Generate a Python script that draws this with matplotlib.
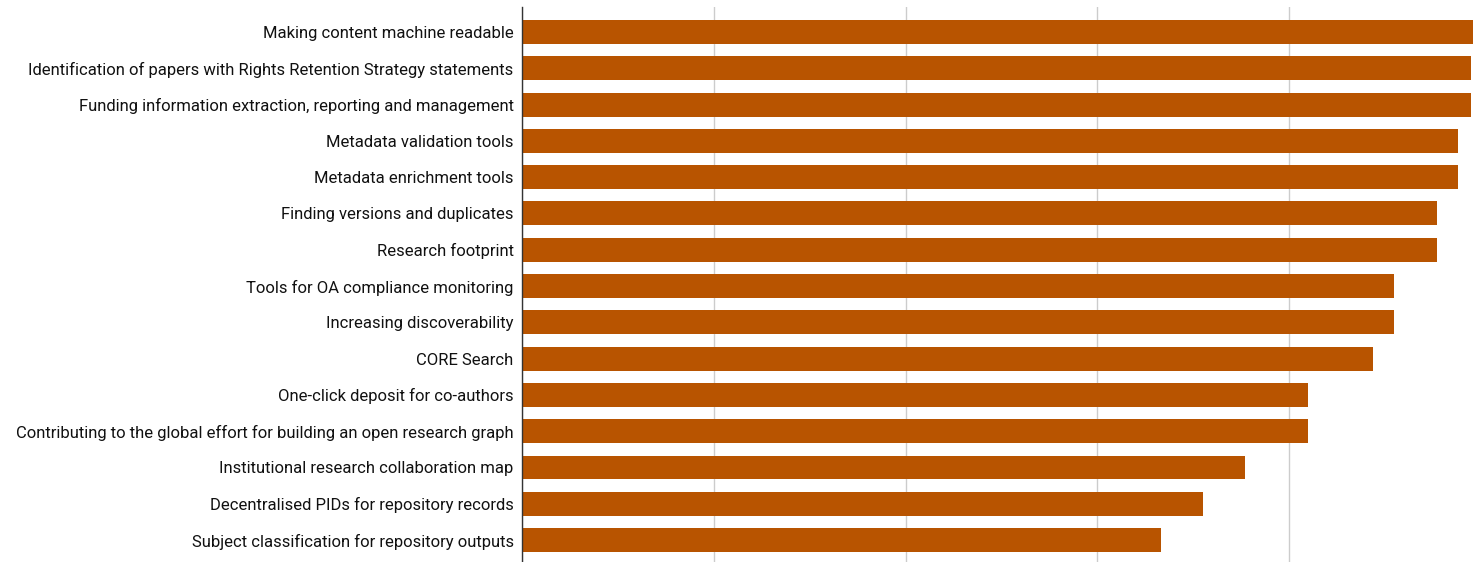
import matplotlib
matplotlib.use("Agg")
import matplotlib.pyplot as plt

# survey features, top to bottom
features = [
    "Making content machine readable",
    "Identification of papers with Rights Retention Strategy statements",
    "Funding information extraction, reporting and management",
    "Metadata validation tools",
    "Metadata enrichment tools",
    "Finding versions and duplicates",
    "Research footprint",
    "Tools for OA compliance monitoring",
    "Increasing discoverability",
    "CORE Search",
    "One-click deposit for co-authors",
    "Contributing to the global effort for building an open research graph",
    "Institutional research collaboration map",
    "Decentralised PIDs for repository records",
    "Subject classification for repository outputs",
]
scores = [5.00, 4.95, 4.95, 4.88, 4.88, 4.77, 4.77, 4.55, 4.55, 4.44,
          4.10, 4.10, 3.77, 3.55, 3.33]

plt.rcParams['font.family'] = ['Roboto', 'DejaVu Sans']

W, H = 1473, 562
fig = plt.figure(figsize=(W / 100, H / 100), dpi=100)
# chart is cropped: plot area runs off the right and bottom edges
ax = fig.add_axes([522 / W, 0, 1 - 522 / W, 1 - 7 / H])

pos = list(range(len(features)))
ax.barh(pos, scores, height=0.66, color="#B85400", zorder=2)

ax.set_xlim(0, (W - 522) / 191.75)
ax.set_ylim((H - 32) / 36.29, -25 / 36.29)

ax.set_yticks(pos)
ax.set_yticklabels(features, fontsize=12, color="#111111")
ax.tick_params(axis="y", length=0, pad=6)
ax.set_xticks([0, 1, 2, 3, 4])
ax.tick_params(axis="x", length=0, labelbottom=False)
ax.xaxis.grid(True, color="#cccccc", linewidth=1)
ax.set_axisbelow(True)

for s in ["top", "right", "bottom"]:
    ax.spines[s].set_visible(False)
ax.spines["left"].set_color("#333333")
ax.spines["left"].set_linewidth(1)
ax.spines["left"].set_zorder(3)

fig.savefig("out.png", dpi=100)
